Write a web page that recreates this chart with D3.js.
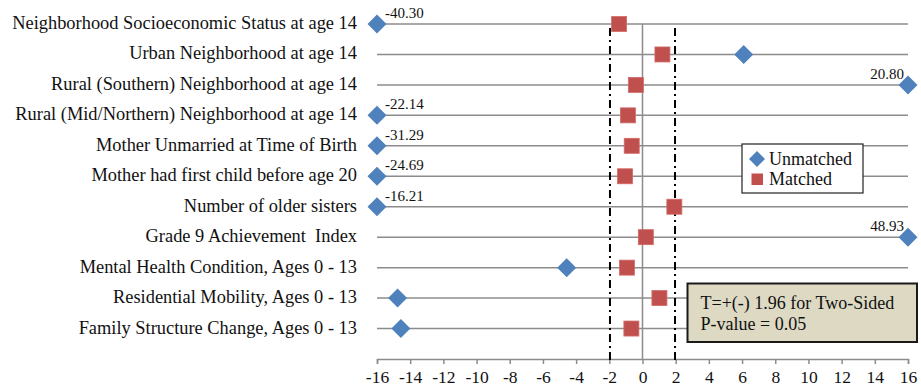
<!DOCTYPE html>
<html>
<head>
<meta charset="utf-8">
<script src="https://cdn.jsdelivr.net/npm/d3@7"></script>
<style>
  html, body { margin: 0; padding: 0; background: #fff; }
  svg { display: block; }
  svg text { font-family: "Liberation Serif", "Times New Roman", serif; }
</style>
</head>
<body>
<svg id="chart" width="921" height="391"></svg>
<script>
// Covariates, top to bottom
const categories = [
  "Neighborhood Socioeconomic Status at age 14",
  "Urban Neighborhood at age 14",
  "Rural (Southern) Neighborhood at age 14",
  "Rural (Mid/Northern) Neighborhood at age 14",
  "Mother Unmarried at Time of Birth",
  "Mother had first child before age 20",
  "Number of older sisters",
  "Grade 9 Achievement  Index",
  "Mental Health Condition, Ages 0 - 13",
  "Residential Mobility, Ages 0 - 13",
  "Family Structure Change, Ages 0 - 13"
];
// T-statistics before and after matching
const unmatched = [-40.30, 6.10, 20.80, -22.14, -31.29, -24.69, -16.21, 48.93, -4.57, -14.76, -14.56];
const matched   = [-1.41, 1.20, -0.40, -0.88, -0.65, -1.05, 1.92, 0.20, -0.94, 1.02, -0.67];
const xTicks = d3.range(-16, 17, 2);
const criticalT = [-1.96, 1.96];
const legendLabels = ["Unmatched", "Matched"];
const noteLines = ["T=+(-) 1.96 for Two-Sided", "P-value = 0.05"];

const svg = d3.select("#chart");
const blue = "#4F81BD", red = "#C0504D", grid = "#8c8c8c";

const x = d3.scaleLinear().domain([-16, 16]).range([377, 908]).clamp(true);
// row k (0 = top) sits at y value 11 - k
const y = d3.scaleLinear().domain([0, 11]).range([359, 24]);
const rowY = i => y(11 - i);

// horizontal gridlines, one per covariate
svg.append("g").selectAll("line").data(categories).join("line")
  .attr("x1", x(-16)).attr("x2", x(16))
  .attr("y1", (d, i) => rowY(i)).attr("y2", (d, i) => rowY(i))
  .attr("stroke", grid).attr("stroke-width", 1.5);

// vertical axis at zero
svg.append("line")
  .attr("x1", x(0)).attr("x2", x(0)).attr("y1", y(11)).attr("y2", y(0))
  .attr("stroke", grid).attr("stroke-width", 1.5);

// bottom axis
const xAxis = d3.axisBottom(x).tickValues(xTicks).tickSize(5).tickPadding(7).tickFormat(d3.format("d"));
const gx = svg.append("g").attr("transform", `translate(0,${y(0)})`).call(xAxis)
  .attr("font-family", null).attr("font-size", null);
gx.select(".domain").attr("stroke", grid).attr("stroke-width", 1.5);
gx.selectAll(".tick line").attr("stroke", grid).attr("stroke-width", 1.5);
gx.selectAll(".tick text")
  .style("font-family", "'Liberation Serif', 'Times New Roman', serif")
  .style("font-size", "17.5px").attr("fill", "#111")
  .text(d => d < 0 ? "-" + Math.abs(d) : d);

// critical value lines
svg.append("g").selectAll("line").data(criticalT).join("line")
  .attr("x1", d => x(d)).attr("x2", d => x(d))
  .attr("y1", y(11) + 4).attr("y2", y(0) + 4)
  .attr("stroke", "#000").attr("stroke-width", 2)
  .attr("stroke-dasharray", "8,4,2,4");

// category labels
svg.append("g").selectAll("text").data(categories).join("text")
  .attr("x", 357).attr("y", (d, i) => rowY(i) + 5)
  .attr("text-anchor", "end").attr("font-size", 18.4).attr("fill", "#111")
  .style("white-space", "pre")
  .text(d => d);

// matched: squares
svg.append("g").selectAll("rect").data(matched).join("rect")
  .attr("x", d => x(d) - 7.5).attr("y", (d, i) => rowY(i) - 7.5)
  .attr("width", 15).attr("height", 15)
  .attr("fill", red).attr("stroke", "#d26a67").attr("stroke-width", 0.8);

// unmatched: diamonds (clamped to the axis range)
svg.append("g").selectAll("path").data(unmatched).join("path")
  .attr("d", "M0,-9.5L9.5,0L0,9.5L-9.5,0Z")
  .attr("transform", (d, i) => `translate(${x(d)},${rowY(i)})`)
  .attr("fill", blue);

// values beyond the axis range are written next to the clamped marker
svg.append("g").selectAll("text")
  .data(unmatched.map((v, i) => ({ v, i })).filter(d => d.v < -16 || d.v > 16))
  .join("text")
  .attr("x", d => d.v < 0 ? x(d.v) + 8 : x(d.v) - 4)
  .attr("y", d => rowY(d.i) - 6)
  .attr("text-anchor", d => d.v < 0 ? "start" : "end")
  .attr("font-size", 15).attr("fill", "#111")
  .text(d => d.v.toFixed(2));

// legend
const lg = svg.append("g");
lg.append("rect").attr("x", 742).attr("y", 144).attr("width", 121).attr("height", 49)
  .attr("fill", "#fff").attr("stroke", "#222").attr("stroke-width", 1.2);
lg.append("path").attr("d", "M0,-8L8,0L0,8L-8,0Z").attr("transform", "translate(757,159)").attr("fill", blue);
lg.append("rect").attr("x", 751.5).attr("y", 173.5).attr("width", 11.5).attr("height", 11.5).attr("fill", red);
lg.selectAll("text").data(legendLabels).join("text")
  .attr("x", 769).attr("y", (d, i) => 165 + i * 19.5)
  .attr("font-size", 18).attr("fill", "#111").text(d => d);

// significance note
const note = svg.append("g");
note.append("rect").attr("x", 687.5).attr("y", 283.5).attr("width", 229.5).attr("height", 58.5)
  .attr("fill", "#DDD9C3").attr("stroke", "#1a1a1a").attr("stroke-width", 2);
note.selectAll("text").data(noteLines).join("text")
  .attr("x", 700.5).attr("y", (d, i) => 308.5 + i * 21.5)
  .attr("font-size", 18).attr("fill", "#111").text(d => d);
</script>
</body>
</html>
